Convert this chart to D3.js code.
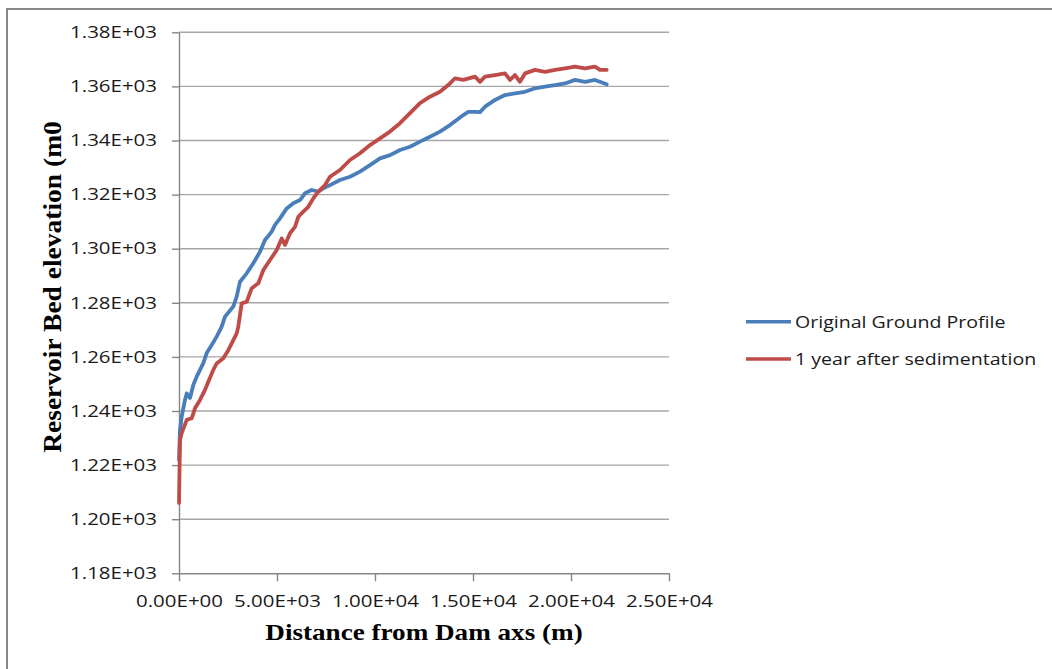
<!DOCTYPE html>
<html><head><meta charset="utf-8">
<script src="https://cdn.jsdelivr.net/npm/d3@7"></script>
<style>body{margin:0;background:#fff;} svg{display:block}</style>
</head><body>
<svg id="c" width="1052" height="669"></svg>
<script>
// ---- data ----
const seriesNames = ["Original Ground Profile", "1 year after sedimentation"];
const originalX = [0,51,138,306,393,561,730,903,1071,1240,1413,1668,1923,2179,2347,2770,2944,3112,3454,3791,4133,4388,4730,4898,5153,5495,5832,6173,6429,6770,7107,7362,7704,8214,8724,9235,9745,10255,10765,11275,11786,12296,12806,13316,13826,14168,14505,14760,15102,15357,15612,16122,16633,17143,17653,18163,18673,19184,19694,20204,20714,21224,21821];
const originalY = [1221.9,1233.0,1237.9,1244.1,1246.5,1244.8,1249.6,1252.7,1255.2,1257.7,1261.4,1264.4,1267.5,1271.2,1274.9,1278.6,1282.3,1287.8,1290.9,1294.6,1298.9,1303.2,1306.3,1308.8,1311.2,1314.9,1316.8,1318.0,1320.5,1321.7,1321.1,1322.3,1323.5,1325.4,1326.6,1328.5,1330.9,1333.4,1334.6,1336.5,1337.7,1339.6,1341.4,1343.3,1345.7,1347.6,1349.4,1350.6,1350.6,1350.5,1352.5,1355.0,1356.8,1357.4,1358.0,1359.3,1359.9,1360.5,1361.1,1362.4,1361.7,1362.4,1360.8];
const afterX = [0,51,138,393,648,816,1071,1327,1495,1750,1923,2260,2515,2770,2944,3025,3199,3454,3709,4046,4301,4643,4985,5240,5408,5663,5918,6087,6342,6597,6852,7107,7449,7704,8214,8724,9235,9745,10255,10765,11275,11786,12296,12806,13316,13826,14082,14505,15102,15357,15612,16122,16633,16888,17143,17398,17653,18163,18673,19184,19694,20204,20714,21224,21479,21821];
const afterY = [1206.0,1229.3,1231.8,1236.7,1237.3,1241.0,1244.1,1247.8,1250.8,1255.2,1257.6,1259.5,1262.5,1266.2,1268.7,1271.2,1279.8,1280.4,1285.4,1287.2,1292.1,1295.8,1299.5,1303.8,1301.4,1305.7,1308.1,1311.8,1313.7,1315.5,1318.6,1321.1,1323.5,1326.6,1329.1,1332.8,1335.3,1338.3,1340.8,1343.3,1346.4,1350.1,1353.8,1356.2,1358.0,1361.1,1363.0,1362.4,1363.6,1361.7,1363.6,1364.2,1364.8,1362.4,1364.2,1361.7,1364.8,1366.1,1365.4,1366.1,1366.7,1367.3,1366.7,1367.3,1366.1,1366.1];
const xTicks = [0, 5000, 10000, 15000, 20000, 25000];
const yTicks = [1180, 1200, 1220, 1240, 1260, 1280, 1300, 1320, 1340, 1360, 1380];
const xTitle = "Distance from Dam axs (m)";
const yTitle = "Reservoir Bed elevation (m0";
const colors = ["#4A7EBB", "#BE4B48"];

// ---- layout ----
const W = 1052, H = 669;
const L = 179, R = 669, T = 32.3, B = 573.3;
const STRETCH = 1.13;
const svg = d3.select("#c");
const x = d3.scaleLinear().domain([0, 25000]).range([L, R]);
const y = d3.scaleLinear().domain([1180, 1380]).range([B, T]);
const fmt = v => { const s = v.toExponential(2).toUpperCase(); const m = s.match(/^(.*)E([+-])(\d+)$/); return m[1] + "E" + m[2] + m[3].padStart(2, "0"); };
function stretch(sel, f) { sel.each(function () { const w = this.getComputedTextLength(); this.setAttribute("textLength", w * (f || STRETCH)); this.setAttribute("lengthAdjust", "spacingAndGlyphs"); }); }

// frame
svg.append("rect").attr("x", 7).attr("y", 9).attr("width", W).attr("height", H)
  .attr("fill", "none").attr("stroke", "#878787").attr("stroke-width", 2);

// gridlines
svg.append("g").selectAll("line").data(yTicks.filter(d => d !== 1180)).join("line")
  .attr("x1", L).attr("x2", R).attr("y1", d => y(d)).attr("y2", d => y(d))
  .attr("stroke", "#a6a6a6").attr("stroke-width", 1.4);

// axes
const yAxis = svg.append("g").attr("transform", `translate(${L},0)`)
  .call(d3.axisLeft(y).tickValues(yTicks).tickFormat(fmt).tickSize(7).tickSizeOuter(0).tickPadding(15));
const xAxis = svg.append("g").attr("transform", `translate(0,${B})`)
  .call(d3.axisBottom(x).tickValues(xTicks).tickFormat(fmt).tickSize(8).tickSizeOuter(0));
[yAxis, xAxis].forEach(a => {
  a.select(".domain").attr("stroke", "#868686").attr("stroke-width", 1.4);
  a.selectAll(".tick line").attr("stroke", "#868686").attr("stroke-width", 1.4);
  a.selectAll("text").attr("font-family", "'Open Sans', sans-serif").attr("font-size", "16.5px").attr("fill", "#1a1a1a");
});
xAxis.selectAll("text").attr("y", 34).attr("dy", 0);
stretch(yAxis.selectAll("text"), 1.24);
stretch(xAxis.selectAll("text"), 1.24);

// lines
const line = d3.line().x(d => x(d[0])).y(d => y(d[1]));
const series = [d3.zip(originalX, originalY), d3.zip(afterX, afterY)];
svg.append("g").selectAll("path").data(series).join("path")
  .attr("d", line).attr("fill", "none")
  .attr("stroke", (d, i) => colors[i]).attr("stroke-width", 3.8)
  .attr("stroke-linejoin", "round").attr("stroke-linecap", "round");

// axis titles
const xt = svg.append("text").attr("x", (L + R) / 2).attr("y", 640).attr("text-anchor", "middle")
  .attr("font-family", "'Liberation Serif', 'Times New Roman', serif").attr("font-weight", "bold")
  .attr("font-size", "24px").attr("fill", "#000").text(xTitle);
stretch(xt);
const yt = svg.append("text").attr("transform", "translate(61,287) rotate(-90)").attr("text-anchor", "middle")
  .attr("font-family", "'Liberation Serif', 'Times New Roman', serif").attr("font-weight", "bold")
  .attr("font-size", "25px").attr("fill", "#000").text(yTitle);
stretch(yt, 1.1);

// legend
const lg = svg.append("g").selectAll("g").data(seriesNames).join("g")
  .attr("transform", (d, i) => `translate(746,${321.7 + i * 37.3})`);
lg.append("line").attr("x1", 0).attr("x2", 45).attr("stroke", (d, i) => colors[i]).attr("stroke-width", 3.5);
const lt = lg.append("text").attr("x", 49).attr("dy", "0.36em")
  .attr("font-family", "'Open Sans', sans-serif").attr("font-size", "17px").attr("fill", "#1a1a1a").text(d => d);
stretch(lt, 1.15);
</script>
</body></html>
